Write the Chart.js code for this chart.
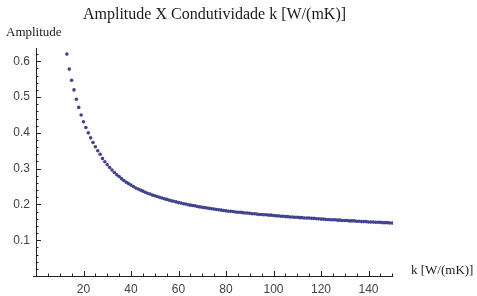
<!DOCTYPE html>
<html>
<head>
<meta charset="utf-8">
<script src="https://cdn.jsdelivr.net/npm/chart.js@4"></script>
<style>
  html, body { margin: 0; padding: 0; background: #fff; }
  #wrap { width: 477px; height: 296px; }
</style>
</head>
<body>
<div id="wrap"><canvas id="chart"></canvas></div>
<script>
var chartTitle = 'Amplitude X Condutividade k [W/(mK)]';
var yLabel = 'Amplitude';
var xLabel = 'k [W/(mK)]';

var kValues = [
    13, 14, 15, 16, 17, 18, 19, 20, 21, 22, 23, 24, 25, 26, 27, 28, 29, 30,
    31, 32, 33, 34, 35, 36, 37, 38, 39, 40, 41, 42, 43, 44, 45, 46, 47, 48, 49, 50,
    51, 52, 53, 54, 55, 56, 57, 58, 59, 60, 61, 62, 63, 64, 65, 66, 67, 68, 69, 70,
    71, 72, 73, 74, 75, 76, 77, 78, 79, 80, 81, 82, 83, 84, 85, 86, 87, 88, 89, 90,
    91, 92, 93, 94, 95, 96, 97, 98, 99, 100, 101, 102, 103, 104, 105, 106, 107, 108, 109, 110,
    111, 112, 113, 114, 115, 116, 117, 118, 119, 120, 121, 122, 123, 124, 125, 126, 127, 128, 129, 130,
    131, 132, 133, 134, 135, 136, 137, 138, 139, 140, 141, 142, 143, 144, 145, 146, 147, 148, 149, 150
];

var amplitude = [
    0.620, 0.578, 0.547, 0.520, 0.494, 0.471, 0.450, 0.431, 0.415, 0.400, 0.386, 0.373, 0.361, 0.350, 0.340, 0.328, 0.319, 0.311,
    0.303, 0.296, 0.289, 0.283, 0.278, 0.272, 0.267, 0.262, 0.258, 0.254, 0.250, 0.246, 0.243, 0.240, 0.237, 0.234, 0.231, 0.229, 0.226, 0.224,
    0.222, 0.220, 0.218, 0.216, 0.214, 0.212, 0.210, 0.209, 0.207, 0.205, 0.204, 0.202, 0.201, 0.199, 0.198, 0.197, 0.196, 0.194, 0.193, 0.192,
    0.191, 0.190, 0.189, 0.188, 0.187, 0.186, 0.185, 0.184, 0.183, 0.182, 0.181, 0.181, 0.180, 0.179, 0.178, 0.178, 0.177, 0.176, 0.176, 0.175,
    0.174, 0.174, 0.173, 0.172, 0.172, 0.171, 0.171, 0.170, 0.170, 0.169, 0.168, 0.168, 0.167, 0.167, 0.166, 0.166, 0.165, 0.165, 0.164, 0.164,
    0.163, 0.163, 0.162, 0.162, 0.162, 0.161, 0.161, 0.160, 0.160, 0.159, 0.159, 0.158, 0.158, 0.157, 0.157, 0.157, 0.156, 0.156, 0.155, 0.155,
    0.155, 0.154, 0.154, 0.154, 0.153, 0.153, 0.152, 0.152, 0.152, 0.151, 0.151, 0.151, 0.150, 0.150, 0.150, 0.149, 0.149, 0.149, 0.148, 0.148
];

var xMajorTicks = [20, 40, 60, 80, 100, 120, 140];
var yMajorTicks = [0.1, 0.2, 0.3, 0.4, 0.5, 0.6];

var points = kValues.map(function(k, i) { return { x: k, y: amplitude[i] }; });

// mathematica-style axes: ticks pointing inward, minor ticks, labels
var axesPlugin = {
    id: 'axesPlugin',
    afterDraw: function(chart) {
        var ctx = chart.ctx;
        var xs = chart.scales.x, ys = chart.scales.y;
        var a = chart.chartArea;
        ctx.save();
        ctx.strokeStyle = '#222';
        ctx.lineWidth = 1;
        ctx.beginPath();
        ctx.moveTo(a.left - 3, a.bottom + 0.5);
        ctx.lineTo(a.right, a.bottom + 0.5);
        ctx.moveTo(a.left + 0.5, a.bottom);
        ctx.lineTo(a.left + 0.5, a.top);
        ctx.stroke();

        ctx.beginPath();
        for (var v = 5; v <= 150; v += 5) {
            var px = Math.round(xs.getPixelForValue(v)) + 0.5;
            var len = (v % 20 === 0) ? 5 : 2.5;
            ctx.moveTo(px, a.bottom);
            ctx.lineTo(px, a.bottom - len);
        }
        for (var j = 1; j <= 31; j++) {
            var yv = j * 0.02;
            var py = Math.round(ys.getPixelForValue(yv)) + 0.5;
            var ylen = (j % 5 === 0) ? 5 : 2.5;
            ctx.moveTo(a.left, py);
            ctx.lineTo(a.left + ylen, py);
        }
        ctx.stroke();

        ctx.fillStyle = '#1a1a1a';
        ctx.font = '16px "Liberation Serif"';
        ctx.textAlign = 'center';
        ctx.textBaseline = 'middle';
        ctx.fillText(chartTitle, (a.left + a.right) / 2, 15);

        ctx.font = '13px "Liberation Serif"';
        ctx.textAlign = 'left';
        ctx.fillText(yLabel, 6, 33);
        ctx.fillText(xLabel, a.right + 18, a.bottom - 5);
        ctx.restore();
    }
};

var ctx = document.getElementById('chart').getContext('2d');
var chart = new Chart(ctx, {
    type: 'scatter',
    data: {
        datasets: [{
            data: points,
            backgroundColor: '#43438f',
            borderWidth: 0,
            pointRadius: 1.8
        }]
    },
    options: {
        responsive: true,
        maintainAspectRatio: false,
        animation: false,
        layout: {
            padding: { left: 0, right: 84, top: 48, bottom: 0 }
        },
        plugins: {
            legend: { display: false },
            tooltip: { enabled: false },
            title: { display: false }
        },
        scales: {
            x: {
                type: 'linear',
                min: 0,
                max: 150.3,
                afterFit: function(scale) { scale.height = 20; },
                afterBuildTicks: function(scale) {
                    scale.ticks = xMajorTicks.map(function(v) { return { value: v }; });
                },
                grid: { display: false, drawTicks: false },
                border: { display: false },
                ticks: {
                    autoSkip: false,
                    maxRotation: 0,
                    padding: 6,
                    color: '#444',
                    font: { family: '"Liberation Sans"', size: 12 },
                    callback: function(v) { return String(v); }
                }
            },
            y: {
                type: 'linear',
                min: 0,
                max: 0.637,
                afterFit: function(scale) { scale.width = 36; },
                afterBuildTicks: function(scale) {
                    scale.ticks = yMajorTicks.map(function(v) { return { value: v }; });
                },
                grid: { display: false, drawTicks: false },
                border: { display: false },
                ticks: {
                    autoSkip: false,
                    padding: 6,
                    color: '#444',
                    font: { family: '"Liberation Sans"', size: 12 },
                    callback: function(v) { return v.toFixed(1); }
                }
            }
        }
    },
    plugins: [axesPlugin]
});
</script>
</body>
</html>
